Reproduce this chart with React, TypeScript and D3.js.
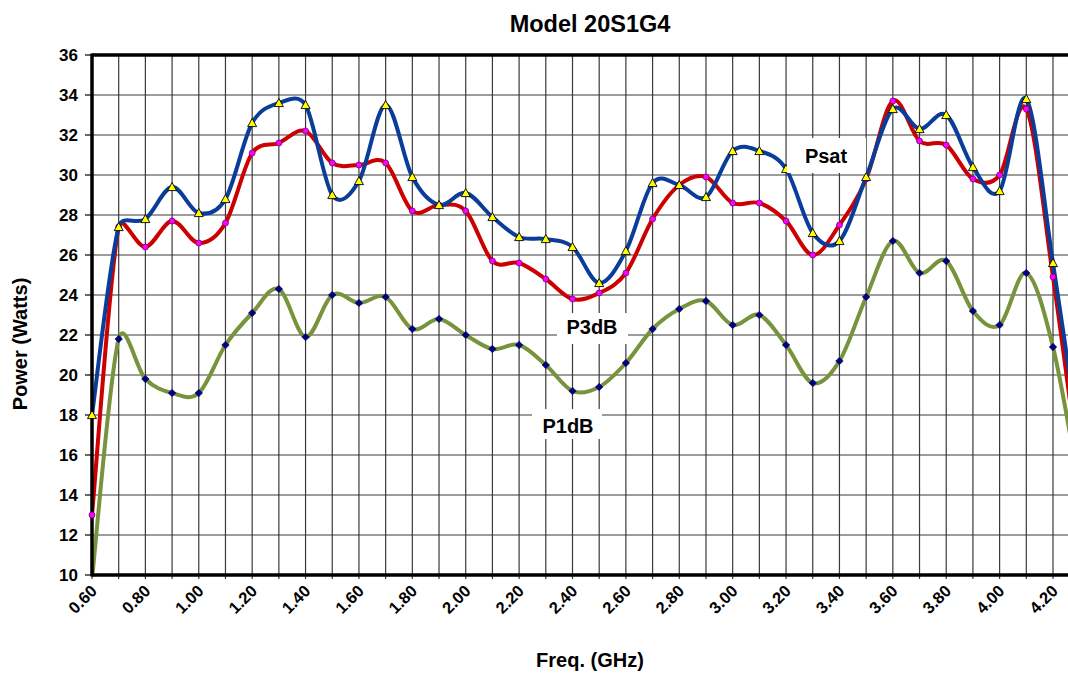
import React from 'react';
import * as d3 from 'd3';

const freqs = [0.6, 0.7, 0.8, 0.9, 1.0, 1.1, 1.2, 1.3, 1.4, 1.5, 1.6, 1.7, 1.8, 1.9, 2.0, 2.1, 2.2, 2.3, 2.4, 2.5, 2.6, 2.7, 2.8, 2.9, 3.0, 3.1, 3.2, 3.3, 3.4, 3.5, 3.6, 3.7, 3.8, 3.9, 4.0, 4.1, 4.2, 4.3];
const psat = [18.0, 27.4, 27.8, 29.4, 28.1, 28.8, 32.6, 33.6, 33.5, 29.0, 29.7, 33.5, 29.9, 28.5, 29.1, 27.9, 26.9, 26.8, 26.4, 24.6, 26.2, 29.6, 29.5, 28.9, 31.2, 31.2, 30.3, 27.1, 26.7, 29.9, 33.3, 32.3, 33.0, 30.4, 29.2, 33.8, 25.6, 16.5];
const p3db = [13.0, 27.4, 26.4, 27.7, 26.6, 27.6, 31.1, 31.6, 32.2, 30.6, 30.5, 30.6, 28.2, 28.5, 28.2, 25.7, 25.6, 24.8, 23.8, 24.1, 25.1, 27.8, 29.5, 29.9, 28.6, 28.6, 27.7, 26.0, 27.5, 29.8, 33.7, 31.7, 31.5, 29.8, 30.0, 33.3, 24.9, 15.0];
const p1db = [9.8, 21.8, 19.8, 19.1, 19.1, 21.5, 23.1, 24.3, 21.9, 24.0, 23.6, 23.9, 22.3, 22.8, 22.0, 21.3, 21.5, 20.5, 19.2, 19.4, 20.6, 22.3, 23.3, 23.7, 22.5, 23.0, 21.5, 19.6, 20.7, 23.9, 26.7, 25.1, 25.7, 23.2, 22.5, 25.1, 21.4, 14.3];
const yTicks = [10, 12, 14, 16, 18, 20, 22, 24, 26, 28, 30, 32, 34, 36];
const xLabels = [0.6, 0.8, 1.0, 1.2, 1.4, 1.6, 1.8, 2.0, 2.2, 2.4, 2.6, 2.8, 3.0, 3.2, 3.4, 3.6, 3.8, 4.0, 4.2];
const xGrid = freqs.filter((f) => f <= 4.2 + 1e-9);

const FONT = "Arial, 'Liberation Sans', sans-serif";

type Pt = [number, number];

// Excel-style smoothed line (Bezier with control arms limited to half the segment length)
function excelSmooth(pts: Pt[]): string {
  const p = d3.path();
  if (!pts.length) return '';
  p.moveTo(pts[0][0], pts[0][1]);
  const dist = (a: Pt, b: Pt) => Math.hypot(b[0] - a[0], b[1] - a[1]);
  for (let i = 0; i < pts.length - 1; i++) {
    const P0 = pts[Math.max(0, i - 1)];
    const P1 = pts[i];
    const P2 = pts[i + 1];
    const P3 = pts[Math.min(pts.length - 1, i + 2)];
    const d02 = dist(P0, P2);
    const d12 = dist(P1, P2);
    const d13 = dist(P1, P3);
    let f0 = 1 / 6;
    let f1 = 1 / 6;
    if (d02 / 6 >= d12 / 2 && d02 > 0) f0 = d12 / d02 / 2;
    if (d13 / 6 >= d12 / 2 && d13 > 0) f1 = d12 / d13 / 2;
    const c1: Pt = [P1[0] + (P2[0] - P0[0]) * f0, P1[1] + (P2[1] - P0[1]) * f0];
    const c2: Pt = [P2[0] - (P3[0] - P1[0]) * f1, P2[1] - (P3[1] - P1[1]) * f1];
    p.bezierCurveTo(c1[0], c1[1], c2[0], c2[1], P2[0], P2[1]);
  }
  return p.toString();
}

export default function App() {
  const x = d3.scaleLinear().domain([0.6, 4.2]).range([92, 1053]);
  const y = d3.scaleLinear().domain([10, 36]).range([575, 55]);
  const [left, right] = [92, 1068];
  const [top, bottom] = [55, 575];

  const mk = (vals: number[]) => excelSmooth(vals.map((v, i) => [x(freqs[i]), y(v)] as Pt));

  const inView = (v: number, i: number) => v >= 10 && freqs[i] <= 4.2 + 1e-9;

  const series = [
    { name: 'P1dB', vals: p1db, color: '#77933c', marker: 'diamond' },
    { name: 'P3dB', vals: p3db, color: '#cc0000', marker: 'circle' },
    { name: 'Psat', vals: psat, color: '#0a3d99', marker: 'triangle' },
  ];

  const marker = (type: string, cx: number, cy: number, key: string) => {
    if (type === 'triangle') {
      const s = 4.5;
      return (
        <path
          key={key}
          d={`M${cx},${cy - s} L${cx + s},${cy + s * 0.8} L${cx - s},${cy + s * 0.8} Z`}
          fill="#ffff00"
          stroke="#000"
          strokeWidth={0.9}
        />
      );
    }
    if (type === 'circle') {
      return <circle key={key} cx={cx} cy={cy} r={3} fill="#ff00ff" stroke="#600060" strokeWidth={0.7} />;
    }
    const s = 3.8;
    return (
      <path
        key={key}
        d={`M${cx},${cy - s} L${cx + s},${cy} L${cx},${cy + s} L${cx - s},${cy} Z`}
        fill="#000080"
        stroke="#000060"
        strokeWidth={0.5}
      />
    );
  };

  const labels = [
    { text: 'Psat', x: 826, y: 163, box: [787, 138, 79, 35] },
    { text: 'P3dB', x: 592, y: 334, box: [557, 313, 71, 31] },
    { text: 'P1dB', x: 568, y: 433, box: [532, 409, 70, 30] },
  ];

  return (
    <svg
      width={1068}
      height={673}
      style={{ position: 'absolute', left: 0, top: 0, background: '#fff' }}
      fontFamily={FONT}
    >
      <defs>
        <clipPath id="plot">
          <rect x={left} y={top} width={right - left} height={bottom - top} />
        </clipPath>
      </defs>
      <rect x={0} y={0} width={1068} height={673} fill="#fff" />
      {/* gridlines */}
      {yTicks.map((t) => (
        <line key={'h' + t} x1={left} x2={right} y1={y(t)} y2={y(t)} stroke="#3a3a3a" strokeWidth={1.2} />
      ))}
      {xGrid.map((f) => (
        <line key={'v' + f} x1={x(f)} x2={x(f)} y1={top} y2={bottom + 4} stroke="#3a3a3a" strokeWidth={1.2} />
      ))}
      {/* y tick marks */}
      {yTicks.map((t) => (
        <line key={'yt' + t} x1={left - 7} x2={left} y1={y(t)} y2={y(t)} stroke="#000" strokeWidth={1.2} />
      ))}
      {/* series */}
      <g clipPath="url(#plot)">
        {series.map((s) => (
          <path key={s.name} d={mk(s.vals)} fill="none" stroke={s.color} strokeWidth={4} strokeLinejoin="round" />
        ))}
      </g>
      {/* axes */}
      <line x1={left} x2={left} y1={top - 1.5} y2={bottom + 1.5} stroke="#000" strokeWidth={3.5} />
      <line x1={left} x2={right} y1={bottom} y2={bottom} stroke="#000" strokeWidth={3.5} />
      <line x1={left} x2={right} y1={top} y2={top} stroke="#000" strokeWidth={3.5} />
      {/* markers */}
      {series.map((s) => (
        <g key={'m' + s.name}>
          {s.vals.map((v, i) => (inView(v, i) ? marker(s.marker, x(freqs[i]), y(v), s.name + i) : null))}
        </g>
      ))}
      {/* data labels */}
      {labels.map((l) => (
        <g key={l.text}>
          <rect x={l.box[0]} y={l.box[1]} width={l.box[2]} height={l.box[3]} fill="#fff" />
          <text x={l.x} y={l.y} textAnchor="middle" fontSize={20} fontWeight="bold" fill="#000">
            {l.text}
          </text>
        </g>
      ))}
      {/* y tick labels */}
      {yTicks.map((t) => (
        <text key={'yl' + t} x={78} y={y(t) + 6} textAnchor="end" fontSize={17} fontWeight="bold" fill="#000">
          {t}
        </text>
      ))}
      {/* x tick labels */}
      {xLabels.map((f) => (
        <text
          key={'xl' + f}
          transform={`translate(${x(f) + 6},${bottom + 17}) rotate(-45)`}
          textAnchor="end"
          fontSize={16.5}
          fontWeight="bold"
          fill="#000"
        >
          {f.toFixed(2)}
        </text>
      ))}
      {/* titles */}
      <text x={590} y={32} textAnchor="middle" fontSize={23.5} fontWeight="bold">
        Model 20S1G4
      </text>
      <text x={590} y={667} textAnchor="middle" fontSize={20} fontWeight="bold">
        Freq. (GHz)
      </text>
      <text transform="translate(27,344) rotate(-90)" textAnchor="middle" fontSize={20} fontWeight="bold">
        Power (Watts)
      </text>
    </svg>
  );
}
